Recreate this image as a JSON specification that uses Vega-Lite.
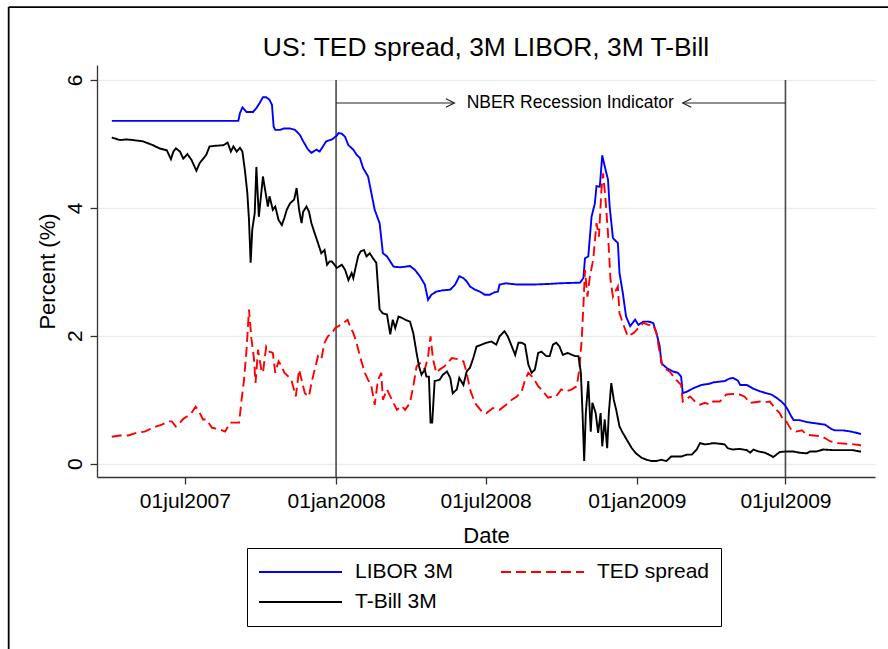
{
"$schema": "https://vega.github.io/schema/vega-lite/v6.json",
"width": 778,
"height": 412,
"autosize": {"type": "none"},
"padding": {"left": 97, "top": 65, "right": 13, "bottom": 172},
"background": "white",
"title": {"text": "US: TED spread, 3M LIBOR, 3M T-Bill", "fontSize": 26.4, "fontWeight": "normal", "color": "black", "anchor": "middle", "frame": "group", "baseline": "alphabetic", "offset": -76.5},
"config": {
  "font": "Liberation Sans",
  "view": {"stroke": null},
  "legend": {
    "orient": "none", "legendX": 150, "legendY": 483, "columns": 2, "direction": "horizontal",
    "strokeColor": "black", "strokeWidth": 1, "fillColor": "white", "padding": 11,
    "symbolType": "stroke", "symbolSize": 6889, "symbolStrokeWidth": 2, "clipHeight": 26,
    "labelFontSize": 21, "labelColor": "black", "labelOffset": 12, "columnPadding": 46, "rowPadding": 4, "labelLimit": 300
  }
},
"layer": [
  {
    "data": {"values": [{}]},
    "mark": {"type": "rule", "color": "black", "strokeWidth": 1.8},
    "encoding": {
      "x": {"datum": {"year": 2006, "month": 11, "date": 28, "hours": 12, "utc": true}, "type": "temporal"},
      "y": {"datum": 7.14, "type": "quantitative"},
      "y2": {"datum": -3.3}
    }
  },
  {
    "data": {"values": [{}]},
    "mark": {"type": "rule", "color": "black", "strokeWidth": 1.8},
    "encoding": {
      "x": {"datum": {"year": 2006, "month": 11, "date": 28, "hours": 12, "utc": true}, "type": "temporal"},
      "x2": {"datum": {"year": 2010, "month": 2, "date": 1, "utc": true}},
      "y": {"datum": 7.14, "type": "quantitative"}
    }
  },
  {
    "data": {"values": [{"when": "2008-01-01"}, {"when": "2009-07-01"}]},
    "mark": {"type": "rule", "color": "#4a4a4a", "strokeWidth": 1.6},
    "encoding": {
      "x": {"field": "when", "type": "temporal"},
      "y": {"datum": 6.0, "type": "quantitative"},
      "y2": {"datum": -0.21}
    }
  },
  {
    "data": {"values": [{"a": "2008-01-01", "b": "2008-05-24"}, {"a": "2009-02-26", "b": "2009-07-01"}]},
    "mark": {"type": "rule", "color": "#222222", "strokeWidth": 1.1},
    "encoding": {
      "x": {"field": "a", "type": "temporal"},
      "x2": {"field": "b"},
      "y": {"datum": 5.64, "type": "quantitative"}
    }
  },
  {
    "data": {"values": [{}]},
    "mark": {"type": "point", "shape": "M-1,-0.5L0,0L-1,0.5", "filled": false, "stroke": "#222222", "strokeWidth": 1.2, "size": 289, "opacity": 1},
    "encoding": {
      "x": {"datum": {"year": 2008, "month": 5, "date": 24, "utc": true}, "type": "temporal"},
      "y": {"datum": 5.64, "type": "quantitative"}
    }
  },
  {
    "data": {"values": [{}]},
    "mark": {"type": "point", "shape": "M1,-0.5L0,0L1,0.5", "filled": false, "stroke": "#222222", "strokeWidth": 1.2, "size": 289, "opacity": 1},
    "encoding": {
      "x": {"datum": {"year": 2009, "month": 2, "date": 26, "utc": true}, "type": "temporal"},
      "y": {"datum": 5.64, "type": "quantitative"}
    }
  },
  {
    "data": {"values": [{"label": "NBER Recession Indicator"}]},
    "mark": {"type": "text", "fontSize": 17.5, "align": "center", "baseline": "middle", "color": "black"},
    "encoding": {
      "x": {"datum": {"year": 2008, "month": 10, "date": 12, "utc": true}, "type": "temporal"},
      "y": {"datum": 5.64, "type": "quantitative"},
      "text": {"field": "label"}
    }
  },
  {
    "data": {"values": [
{"date":"2007-04-03","series":"LIBOR 3M","value":5.36},
{"date":"2007-05-15","series":"LIBOR 3M","value":5.36},
{"date":"2007-07-01","series":"LIBOR 3M","value":5.36},
{"date":"2007-08-15","series":"LIBOR 3M","value":5.36},
{"date":"2007-09-04","series":"LIBOR 3M","value":5.36},
{"date":"2007-09-06","series":"LIBOR 3M","value":5.48},
{"date":"2007-09-09","series":"LIBOR 3M","value":5.57},
{"date":"2007-09-14","series":"LIBOR 3M","value":5.50},
{"date":"2007-09-22","series":"LIBOR 3M","value":5.50},
{"date":"2007-09-26","series":"LIBOR 3M","value":5.56},
{"date":"2007-09-30","series":"LIBOR 3M","value":5.64},
{"date":"2007-10-04","series":"LIBOR 3M","value":5.73},
{"date":"2007-10-08","series":"LIBOR 3M","value":5.73},
{"date":"2007-10-12","series":"LIBOR 3M","value":5.69},
{"date":"2007-10-15","series":"LIBOR 3M","value":5.61},
{"date":"2007-10-17","series":"LIBOR 3M","value":5.27},
{"date":"2007-10-19","series":"LIBOR 3M","value":5.22},
{"date":"2007-10-25","series":"LIBOR 3M","value":5.22},
{"date":"2007-10-29","series":"LIBOR 3M","value":5.24},
{"date":"2007-11-06","series":"LIBOR 3M","value":5.24},
{"date":"2007-11-12","series":"LIBOR 3M","value":5.22},
{"date":"2007-11-18","series":"LIBOR 3M","value":5.14},
{"date":"2007-11-22","series":"LIBOR 3M","value":5.04},
{"date":"2007-11-28","series":"LIBOR 3M","value":4.91},
{"date":"2007-12-02","series":"LIBOR 3M","value":4.86},
{"date":"2007-12-08","series":"LIBOR 3M","value":4.91},
{"date":"2007-12-12","series":"LIBOR 3M","value":4.88},
{"date":"2007-12-16","series":"LIBOR 3M","value":4.96},
{"date":"2007-12-20","series":"LIBOR 3M","value":5.04},
{"date":"2007-12-27","series":"LIBOR 3M","value":5.07},
{"date":"2008-01-02","series":"LIBOR 3M","value":5.13},
{"date":"2008-01-04","series":"LIBOR 3M","value":5.17},
{"date":"2008-01-08","series":"LIBOR 3M","value":5.16},
{"date":"2008-01-12","series":"LIBOR 3M","value":5.11},
{"date":"2008-01-16","series":"LIBOR 3M","value":4.98},
{"date":"2008-01-22","series":"LIBOR 3M","value":4.91},
{"date":"2008-01-26","series":"LIBOR 3M","value":4.83},
{"date":"2008-01-30","series":"LIBOR 3M","value":4.78},
{"date":"2008-02-03","series":"LIBOR 3M","value":4.62},
{"date":"2008-02-09","series":"LIBOR 3M","value":4.49},
{"date":"2008-02-13","series":"LIBOR 3M","value":4.23},
{"date":"2008-02-17","series":"LIBOR 3M","value":3.97},
{"date":"2008-02-23","series":"LIBOR 3M","value":3.76},
{"date":"2008-02-27","series":"LIBOR 3M","value":3.29},
{"date":"2008-03-03","series":"LIBOR 3M","value":3.24},
{"date":"2008-03-07","series":"LIBOR 3M","value":3.16},
{"date":"2008-03-11","series":"LIBOR 3M","value":3.08},
{"date":"2008-03-19","series":"LIBOR 3M","value":3.07},
{"date":"2008-03-31","series":"LIBOR 3M","value":3.09},
{"date":"2008-04-06","series":"LIBOR 3M","value":3.03},
{"date":"2008-04-12","series":"LIBOR 3M","value":2.93},
{"date":"2008-04-18","series":"LIBOR 3M","value":2.80},
{"date":"2008-04-22","series":"LIBOR 3M","value":2.56},
{"date":"2008-04-26","series":"LIBOR 3M","value":2.64},
{"date":"2008-05-02","series":"LIBOR 3M","value":2.69},
{"date":"2008-05-10","series":"LIBOR 3M","value":2.71},
{"date":"2008-05-19","series":"LIBOR 3M","value":2.72},
{"date":"2008-05-25","series":"LIBOR 3M","value":2.80},
{"date":"2008-05-30","series":"LIBOR 3M","value":2.93},
{"date":"2008-06-04","series":"LIBOR 3M","value":2.90},
{"date":"2008-06-08","series":"LIBOR 3M","value":2.85},
{"date":"2008-06-12","series":"LIBOR 3M","value":2.77},
{"date":"2008-06-18","series":"LIBOR 3M","value":2.72},
{"date":"2008-06-24","series":"LIBOR 3M","value":2.69},
{"date":"2008-06-30","series":"LIBOR 3M","value":2.64},
{"date":"2008-07-06","series":"LIBOR 3M","value":2.64},
{"date":"2008-07-12","series":"LIBOR 3M","value":2.68},
{"date":"2008-07-16","series":"LIBOR 3M","value":2.69},
{"date":"2008-07-18","series":"LIBOR 3M","value":2.80},
{"date":"2008-07-26","series":"LIBOR 3M","value":2.82},
{"date":"2008-08-08","series":"LIBOR 3M","value":2.80},
{"date":"2008-08-28","series":"LIBOR 3M","value":2.80},
{"date":"2008-09-17","series":"LIBOR 3M","value":2.81},
{"date":"2008-09-29","series":"LIBOR 3M","value":2.82},
{"date":"2008-10-24","series":"LIBOR 3M","value":2.83},
{"date":"2008-10-28","series":"LIBOR 3M","value":2.90},
{"date":"2008-10-30","series":"LIBOR 3M","value":3.21},
{"date":"2008-11-03","series":"LIBOR 3M","value":3.24},
{"date":"2008-11-07","series":"LIBOR 3M","value":3.86},
{"date":"2008-11-11","series":"LIBOR 3M","value":4.07},
{"date":"2008-11-13","series":"LIBOR 3M","value":4.34},
{"date":"2008-11-17","series":"LIBOR 3M","value":4.33},
{"date":"2008-11-20","series":"LIBOR 3M","value":4.82},
{"date":"2008-11-23","series":"LIBOR 3M","value":4.65},
{"date":"2008-11-27","series":"LIBOR 3M","value":4.44},
{"date":"2008-11-29","series":"LIBOR 3M","value":4.02},
{"date":"2008-12-03","series":"LIBOR 3M","value":3.53},
{"date":"2008-12-05","series":"LIBOR 3M","value":3.50},
{"date":"2008-12-09","series":"LIBOR 3M","value":3.45},
{"date":"2008-12-11","series":"LIBOR 3M","value":2.98},
{"date":"2008-12-15","series":"LIBOR 3M","value":2.67},
{"date":"2008-12-19","series":"LIBOR 3M","value":2.30},
{"date":"2008-12-24","series":"LIBOR 3M","value":2.15},
{"date":"2008-12-30","series":"LIBOR 3M","value":2.25},
{"date":"2009-01-03","series":"LIBOR 3M","value":2.17},
{"date":"2009-01-09","series":"LIBOR 3M","value":2.22},
{"date":"2009-01-15","series":"LIBOR 3M","value":2.22},
{"date":"2009-01-21","series":"LIBOR 3M","value":2.20},
{"date":"2009-01-25","series":"LIBOR 3M","value":2.04},
{"date":"2009-01-29","series":"LIBOR 3M","value":1.83},
{"date":"2009-01-31","series":"LIBOR 3M","value":1.57},
{"date":"2009-02-06","series":"LIBOR 3M","value":1.50},
{"date":"2009-02-14","series":"LIBOR 3M","value":1.44},
{"date":"2009-02-20","series":"LIBOR 3M","value":1.42},
{"date":"2009-02-24","series":"LIBOR 3M","value":1.36},
{"date":"2009-02-26","series":"LIBOR 3M","value":1.10},
{"date":"2009-03-04","series":"LIBOR 3M","value":1.13},
{"date":"2009-03-11","series":"LIBOR 3M","value":1.18},
{"date":"2009-03-17","series":"LIBOR 3M","value":1.21},
{"date":"2009-03-21","series":"LIBOR 3M","value":1.23},
{"date":"2009-03-31","series":"LIBOR 3M","value":1.25},
{"date":"2009-04-04","series":"LIBOR 3M","value":1.27},
{"date":"2009-04-18","series":"LIBOR 3M","value":1.29},
{"date":"2009-04-24","series":"LIBOR 3M","value":1.33},
{"date":"2009-04-28","series":"LIBOR 3M","value":1.34},
{"date":"2009-05-04","series":"LIBOR 3M","value":1.30},
{"date":"2009-05-07","series":"LIBOR 3M","value":1.23},
{"date":"2009-05-15","series":"LIBOR 3M","value":1.23},
{"date":"2009-05-23","series":"LIBOR 3M","value":1.17},
{"date":"2009-05-31","series":"LIBOR 3M","value":1.13},
{"date":"2009-06-08","series":"LIBOR 3M","value":1.10},
{"date":"2009-06-14","series":"LIBOR 3M","value":1.08},
{"date":"2009-06-20","series":"LIBOR 3M","value":1.03},
{"date":"2009-06-26","series":"LIBOR 3M","value":0.97},
{"date":"2009-06-30","series":"LIBOR 3M","value":0.92},
{"date":"2009-07-04","series":"LIBOR 3M","value":0.84},
{"date":"2009-07-08","series":"LIBOR 3M","value":0.74},
{"date":"2009-07-11","series":"LIBOR 3M","value":0.68},
{"date":"2009-07-18","series":"LIBOR 3M","value":0.68},
{"date":"2009-07-27","series":"LIBOR 3M","value":0.65},
{"date":"2009-08-06","series":"LIBOR 3M","value":0.63},
{"date":"2009-08-18","series":"LIBOR 3M","value":0.61},
{"date":"2009-08-26","series":"LIBOR 3M","value":0.54},
{"date":"2009-08-30","series":"LIBOR 3M","value":0.52},
{"date":"2009-09-09","series":"LIBOR 3M","value":0.52},
{"date":"2009-09-19","series":"LIBOR 3M","value":0.50},
{"date":"2009-09-29","series":"LIBOR 3M","value":0.47},
{"date":"2009-10-01","series":"LIBOR 3M","value":0.46},
{"date":"2007-04-03","series":"TED spread","value":0.42},
{"date":"2007-04-13","series":"TED spread","value":0.44},
{"date":"2007-04-23","series":"TED spread","value":0.44},
{"date":"2007-05-03","series":"TED spread","value":0.48},
{"date":"2007-05-13","series":"TED spread","value":0.50},
{"date":"2007-05-23","series":"TED spread","value":0.56},
{"date":"2007-06-03","series":"TED spread","value":0.61},
{"date":"2007-06-11","series":"TED spread","value":0.66},
{"date":"2007-06-15","series":"TED spread","value":0.66},
{"date":"2007-06-20","series":"TED spread","value":0.58},
{"date":"2007-06-25","series":"TED spread","value":0.64},
{"date":"2007-06-29","series":"TED spread","value":0.70},
{"date":"2007-07-04","series":"TED spread","value":0.74},
{"date":"2007-07-09","series":"TED spread","value":0.79},
{"date":"2007-07-14","series":"TED spread","value":0.89},
{"date":"2007-07-18","series":"TED spread","value":0.82},
{"date":"2007-07-23","series":"TED spread","value":0.69},
{"date":"2007-07-27","series":"TED spread","value":0.69},
{"date":"2007-08-03","series":"TED spread","value":0.56},
{"date":"2007-08-11","series":"TED spread","value":0.54},
{"date":"2007-08-19","series":"TED spread","value":0.50},
{"date":"2007-08-25","series":"TED spread","value":0.64},
{"date":"2007-08-31","series":"TED spread","value":0.64},
{"date":"2007-09-05","series":"TED spread","value":0.64},
{"date":"2007-09-08","series":"TED spread","value":1.00},
{"date":"2007-09-11","series":"TED spread","value":1.31},
{"date":"2007-09-14","series":"TED spread","value":1.78},
{"date":"2007-09-17","series":"TED spread","value":2.41},
{"date":"2007-09-20","series":"TED spread","value":1.95},
{"date":"2007-09-23","series":"TED spread","value":1.65},
{"date":"2007-09-25","series":"TED spread","value":1.26},
{"date":"2007-09-28","series":"TED spread","value":1.78},
{"date":"2007-10-02","series":"TED spread","value":1.47},
{"date":"2007-10-04","series":"TED spread","value":1.42},
{"date":"2007-10-06","series":"TED spread","value":1.63},
{"date":"2007-10-08","series":"TED spread","value":1.83},
{"date":"2007-10-12","series":"TED spread","value":1.75},
{"date":"2007-10-16","series":"TED spread","value":1.73},
{"date":"2007-10-19","series":"TED spread","value":1.42},
{"date":"2007-10-23","series":"TED spread","value":1.60},
{"date":"2007-10-27","series":"TED spread","value":1.52},
{"date":"2007-10-30","series":"TED spread","value":1.42},
{"date":"2007-11-04","series":"TED spread","value":1.36},
{"date":"2007-11-08","series":"TED spread","value":1.29},
{"date":"2007-11-13","series":"TED spread","value":1.05},
{"date":"2007-11-17","series":"TED spread","value":1.47},
{"date":"2007-11-20","series":"TED spread","value":1.31},
{"date":"2007-11-24","series":"TED spread","value":1.10},
{"date":"2007-11-29","series":"TED spread","value":1.05},
{"date":"2007-12-02","series":"TED spread","value":1.26},
{"date":"2007-12-06","series":"TED spread","value":1.47},
{"date":"2007-12-10","series":"TED spread","value":1.68},
{"date":"2007-12-14","series":"TED spread","value":1.63},
{"date":"2007-12-18","series":"TED spread","value":1.89},
{"date":"2007-12-22","series":"TED spread","value":1.99},
{"date":"2007-12-27","series":"TED spread","value":2.04},
{"date":"2007-12-31","series":"TED spread","value":2.12},
{"date":"2008-01-04","series":"TED spread","value":2.15},
{"date":"2008-01-10","series":"TED spread","value":2.20},
{"date":"2008-01-15","series":"TED spread","value":2.25},
{"date":"2008-01-18","series":"TED spread","value":2.15},
{"date":"2008-01-22","series":"TED spread","value":2.04},
{"date":"2008-01-26","series":"TED spread","value":1.89},
{"date":"2008-01-30","series":"TED spread","value":1.68},
{"date":"2008-02-05","series":"TED spread","value":1.42},
{"date":"2008-02-09","series":"TED spread","value":1.31},
{"date":"2008-02-13","series":"TED spread","value":1.21},
{"date":"2008-02-17","series":"TED spread","value":0.92},
{"date":"2008-02-21","series":"TED spread","value":1.31},
{"date":"2008-02-25","series":"TED spread","value":1.42},
{"date":"2008-02-27","series":"TED spread","value":1.00},
{"date":"2008-03-03","series":"TED spread","value":1.16},
{"date":"2008-03-07","series":"TED spread","value":1.05},
{"date":"2008-03-11","series":"TED spread","value":0.95},
{"date":"2008-03-15","series":"TED spread","value":0.84},
{"date":"2008-03-21","series":"TED spread","value":0.90},
{"date":"2008-03-25","series":"TED spread","value":0.84},
{"date":"2008-03-31","series":"TED spread","value":0.95},
{"date":"2008-04-04","series":"TED spread","value":1.21},
{"date":"2008-04-08","series":"TED spread","value":1.52},
{"date":"2008-04-12","series":"TED spread","value":1.57},
{"date":"2008-04-18","series":"TED spread","value":1.47},
{"date":"2008-04-22","series":"TED spread","value":1.68},
{"date":"2008-04-25","series":"TED spread","value":1.99},
{"date":"2008-04-28","series":"TED spread","value":1.63},
{"date":"2008-05-02","series":"TED spread","value":1.42},
{"date":"2008-05-06","series":"TED spread","value":1.47},
{"date":"2008-05-12","series":"TED spread","value":1.52},
{"date":"2008-05-21","series":"TED spread","value":1.65},
{"date":"2008-05-29","series":"TED spread","value":1.63},
{"date":"2008-06-04","series":"TED spread","value":1.60},
{"date":"2008-06-08","series":"TED spread","value":1.42},
{"date":"2008-06-12","series":"TED spread","value":1.16},
{"date":"2008-06-18","series":"TED spread","value":0.95},
{"date":"2008-06-26","series":"TED spread","value":0.82},
{"date":"2008-07-02","series":"TED spread","value":0.79},
{"date":"2008-07-10","series":"TED spread","value":0.87},
{"date":"2008-07-18","series":"TED spread","value":0.84},
{"date":"2008-07-26","series":"TED spread","value":0.92},
{"date":"2008-08-02","series":"TED spread","value":1.00},
{"date":"2008-08-08","series":"TED spread","value":1.05},
{"date":"2008-08-14","series":"TED spread","value":1.13},
{"date":"2008-08-18","series":"TED spread","value":1.31},
{"date":"2008-08-22","series":"TED spread","value":1.42},
{"date":"2008-08-28","series":"TED spread","value":1.34},
{"date":"2008-09-03","series":"TED spread","value":1.21},
{"date":"2008-09-09","series":"TED spread","value":1.13},
{"date":"2008-09-15","series":"TED spread","value":1.03},
{"date":"2008-09-21","series":"TED spread","value":1.05},
{"date":"2008-09-25","series":"TED spread","value":1.05},
{"date":"2008-10-01","series":"TED spread","value":1.16},
{"date":"2008-10-07","series":"TED spread","value":1.13},
{"date":"2008-10-14","series":"TED spread","value":1.16},
{"date":"2008-10-20","series":"TED spread","value":1.21},
{"date":"2008-10-23","series":"TED spread","value":1.47},
{"date":"2008-10-26","series":"TED spread","value":1.94},
{"date":"2008-10-28","series":"TED spread","value":2.46},
{"date":"2008-10-30","series":"TED spread","value":3.03},
{"date":"2008-11-02","series":"TED spread","value":2.61},
{"date":"2008-11-05","series":"TED spread","value":2.93},
{"date":"2008-11-09","series":"TED spread","value":3.19},
{"date":"2008-11-13","series":"TED spread","value":3.76},
{"date":"2008-11-16","series":"TED spread","value":3.55},
{"date":"2008-11-19","series":"TED spread","value":4.28},
{"date":"2008-11-21","series":"TED spread","value":4.54},
{"date":"2008-11-24","series":"TED spread","value":4.13},
{"date":"2008-11-27","series":"TED spread","value":3.60},
{"date":"2008-11-30","series":"TED spread","value":2.88},
{"date":"2008-12-03","series":"TED spread","value":2.61},
{"date":"2008-12-05","series":"TED spread","value":2.67},
{"date":"2008-12-09","series":"TED spread","value":2.77},
{"date":"2008-12-11","series":"TED spread","value":2.35},
{"date":"2008-12-15","series":"TED spread","value":2.20},
{"date":"2008-12-21","series":"TED spread","value":1.99},
{"date":"2008-12-28","series":"TED spread","value":2.04},
{"date":"2009-01-03","series":"TED spread","value":2.12},
{"date":"2009-01-09","series":"TED spread","value":2.20},
{"date":"2009-01-15","series":"TED spread","value":2.17},
{"date":"2009-01-21","series":"TED spread","value":2.17},
{"date":"2009-01-25","series":"TED spread","value":2.04},
{"date":"2009-01-29","series":"TED spread","value":1.73},
{"date":"2009-02-02","series":"TED spread","value":1.50},
{"date":"2009-02-10","series":"TED spread","value":1.44},
{"date":"2009-02-18","series":"TED spread","value":1.31},
{"date":"2009-02-24","series":"TED spread","value":1.23},
{"date":"2009-02-26","series":"TED spread","value":0.97},
{"date":"2009-03-07","series":"TED spread","value":1.05},
{"date":"2009-03-13","series":"TED spread","value":0.97},
{"date":"2009-03-19","series":"TED spread","value":0.92},
{"date":"2009-03-25","series":"TED spread","value":0.95},
{"date":"2009-03-31","series":"TED spread","value":0.92},
{"date":"2009-04-04","series":"TED spread","value":0.97},
{"date":"2009-04-12","series":"TED spread","value":0.97},
{"date":"2009-04-20","series":"TED spread","value":1.08},
{"date":"2009-04-28","series":"TED spread","value":1.09},
{"date":"2009-05-06","series":"TED spread","value":1.08},
{"date":"2009-05-12","series":"TED spread","value":1.05},
{"date":"2009-05-19","series":"TED spread","value":0.95},
{"date":"2009-05-25","series":"TED spread","value":0.96},
{"date":"2009-05-31","series":"TED spread","value":0.97},
{"date":"2009-06-06","series":"TED spread","value":0.96},
{"date":"2009-06-12","series":"TED spread","value":0.97},
{"date":"2009-06-18","series":"TED spread","value":0.87},
{"date":"2009-06-24","series":"TED spread","value":0.79},
{"date":"2009-06-28","series":"TED spread","value":0.69},
{"date":"2009-07-02","series":"TED spread","value":0.66},
{"date":"2009-07-08","series":"TED spread","value":0.53},
{"date":"2009-07-14","series":"TED spread","value":0.50},
{"date":"2009-07-21","series":"TED spread","value":0.52},
{"date":"2009-07-27","series":"TED spread","value":0.45},
{"date":"2009-08-04","series":"TED spread","value":0.44},
{"date":"2009-08-12","series":"TED spread","value":0.43},
{"date":"2009-08-18","series":"TED spread","value":0.40},
{"date":"2009-08-24","series":"TED spread","value":0.35},
{"date":"2009-09-01","series":"TED spread","value":0.32},
{"date":"2009-09-13","series":"TED spread","value":0.31},
{"date":"2009-09-23","series":"TED spread","value":0.30},
{"date":"2009-09-29","series":"TED spread","value":0.29},
{"date":"2009-10-01","series":"TED spread","value":0.28},
{"date":"2007-04-03","series":"T-Bill 3M","value":5.10},
{"date":"2007-04-13","series":"T-Bill 3M","value":5.06},
{"date":"2007-04-21","series":"T-Bill 3M","value":5.07},
{"date":"2007-04-29","series":"T-Bill 3M","value":5.06},
{"date":"2007-05-05","series":"T-Bill 3M","value":5.05},
{"date":"2007-05-11","series":"T-Bill 3M","value":5.04},
{"date":"2007-05-17","series":"T-Bill 3M","value":5.01},
{"date":"2007-05-23","series":"T-Bill 3M","value":4.98},
{"date":"2007-05-31","series":"T-Bill 3M","value":4.93},
{"date":"2007-06-09","series":"T-Bill 3M","value":4.90},
{"date":"2007-06-14","series":"T-Bill 3M","value":4.76},
{"date":"2007-06-17","series":"T-Bill 3M","value":4.88},
{"date":"2007-06-20","series":"T-Bill 3M","value":4.93},
{"date":"2007-06-25","series":"T-Bill 3M","value":4.88},
{"date":"2007-06-29","series":"T-Bill 3M","value":4.77},
{"date":"2007-07-04","series":"T-Bill 3M","value":4.84},
{"date":"2007-07-09","series":"T-Bill 3M","value":4.75},
{"date":"2007-07-15","series":"T-Bill 3M","value":4.58},
{"date":"2007-07-19","series":"T-Bill 3M","value":4.70},
{"date":"2007-07-24","series":"T-Bill 3M","value":4.78},
{"date":"2007-07-27","series":"T-Bill 3M","value":4.83},
{"date":"2007-07-31","series":"T-Bill 3M","value":4.96},
{"date":"2007-08-07","series":"T-Bill 3M","value":4.97},
{"date":"2007-08-17","series":"T-Bill 3M","value":4.98},
{"date":"2007-08-22","series":"T-Bill 3M","value":5.02},
{"date":"2007-08-26","series":"T-Bill 3M","value":4.88},
{"date":"2007-08-29","series":"T-Bill 3M","value":4.96},
{"date":"2007-09-02","series":"T-Bill 3M","value":4.88},
{"date":"2007-09-06","series":"T-Bill 3M","value":4.94},
{"date":"2007-09-09","series":"T-Bill 3M","value":4.88},
{"date":"2007-09-12","series":"T-Bill 3M","value":4.59},
{"date":"2007-09-15","series":"T-Bill 3M","value":4.23},
{"date":"2007-09-17","series":"T-Bill 3M","value":3.81},
{"date":"2007-09-19","series":"T-Bill 3M","value":3.14},
{"date":"2007-09-21","series":"T-Bill 3M","value":3.66},
{"date":"2007-09-24","series":"T-Bill 3M","value":3.92},
{"date":"2007-09-26","series":"T-Bill 3M","value":4.64},
{"date":"2007-09-29","series":"T-Bill 3M","value":3.86},
{"date":"2007-10-04","series":"T-Bill 3M","value":4.49},
{"date":"2007-10-06","series":"T-Bill 3M","value":4.33},
{"date":"2007-10-10","series":"T-Bill 3M","value":4.02},
{"date":"2007-10-12","series":"T-Bill 3M","value":4.18},
{"date":"2007-10-16","series":"T-Bill 3M","value":3.97},
{"date":"2007-10-19","series":"T-Bill 3M","value":4.02},
{"date":"2007-10-23","series":"T-Bill 3M","value":3.81},
{"date":"2007-10-27","series":"T-Bill 3M","value":3.73},
{"date":"2007-10-30","series":"T-Bill 3M","value":3.84},
{"date":"2007-11-02","series":"T-Bill 3M","value":3.97},
{"date":"2007-11-06","series":"T-Bill 3M","value":4.07},
{"date":"2007-11-11","series":"T-Bill 3M","value":4.13},
{"date":"2007-11-14","series":"T-Bill 3M","value":4.31},
{"date":"2007-11-17","series":"T-Bill 3M","value":3.97},
{"date":"2007-11-20","series":"T-Bill 3M","value":3.76},
{"date":"2007-11-22","series":"T-Bill 3M","value":3.94},
{"date":"2007-11-26","series":"T-Bill 3M","value":4.02},
{"date":"2007-11-29","series":"T-Bill 3M","value":3.94},
{"date":"2007-12-02","series":"T-Bill 3M","value":3.76},
{"date":"2007-12-06","series":"T-Bill 3M","value":3.60},
{"date":"2007-12-10","series":"T-Bill 3M","value":3.45},
{"date":"2007-12-14","series":"T-Bill 3M","value":3.29},
{"date":"2007-12-18","series":"T-Bill 3M","value":3.34},
{"date":"2007-12-21","series":"T-Bill 3M","value":3.11},
{"date":"2007-12-24","series":"T-Bill 3M","value":3.16},
{"date":"2007-12-27","series":"T-Bill 3M","value":3.16},
{"date":"2008-01-02","series":"T-Bill 3M","value":3.06},
{"date":"2008-01-08","series":"T-Bill 3M","value":3.11},
{"date":"2008-01-12","series":"T-Bill 3M","value":3.03},
{"date":"2008-01-16","series":"T-Bill 3M","value":2.87},
{"date":"2008-01-20","series":"T-Bill 3M","value":2.98},
{"date":"2008-01-22","series":"T-Bill 3M","value":2.90},
{"date":"2008-01-25","series":"T-Bill 3M","value":3.08},
{"date":"2008-01-28","series":"T-Bill 3M","value":3.25},
{"date":"2008-01-31","series":"T-Bill 3M","value":3.32},
{"date":"2008-02-04","series":"T-Bill 3M","value":3.34},
{"date":"2008-02-07","series":"T-Bill 3M","value":3.24},
{"date":"2008-02-11","series":"T-Bill 3M","value":3.29},
{"date":"2008-02-15","series":"T-Bill 3M","value":3.21},
{"date":"2008-02-19","series":"T-Bill 3M","value":3.14},
{"date":"2008-02-21","series":"T-Bill 3M","value":2.77},
{"date":"2008-02-23","series":"T-Bill 3M","value":2.41},
{"date":"2008-02-27","series":"T-Bill 3M","value":2.35},
{"date":"2008-03-03","series":"T-Bill 3M","value":2.33},
{"date":"2008-03-07","series":"T-Bill 3M","value":2.02},
{"date":"2008-03-10","series":"T-Bill 3M","value":2.25},
{"date":"2008-03-13","series":"T-Bill 3M","value":2.12},
{"date":"2008-03-17","series":"T-Bill 3M","value":2.30},
{"date":"2008-03-21","series":"T-Bill 3M","value":2.28},
{"date":"2008-03-25","series":"T-Bill 3M","value":2.25},
{"date":"2008-03-31","series":"T-Bill 3M","value":2.22},
{"date":"2008-04-04","series":"T-Bill 3M","value":2.04},
{"date":"2008-04-08","series":"T-Bill 3M","value":1.73},
{"date":"2008-04-11","series":"T-Bill 3M","value":1.52},
{"date":"2008-04-14","series":"T-Bill 3M","value":1.39},
{"date":"2008-04-18","series":"T-Bill 3M","value":1.47},
{"date":"2008-04-20","series":"T-Bill 3M","value":1.36},
{"date":"2008-04-23","series":"T-Bill 3M","value":1.36},
{"date":"2008-04-25","series":"T-Bill 3M","value":0.64},
{"date":"2008-04-27","series":"T-Bill 3M","value":0.64},
{"date":"2008-04-30","series":"T-Bill 3M","value":1.29},
{"date":"2008-05-06","series":"T-Bill 3M","value":1.31},
{"date":"2008-05-10","series":"T-Bill 3M","value":1.39},
{"date":"2008-05-15","series":"T-Bill 3M","value":1.44},
{"date":"2008-05-19","series":"T-Bill 3M","value":1.34},
{"date":"2008-05-22","series":"T-Bill 3M","value":1.10},
{"date":"2008-05-27","series":"T-Bill 3M","value":1.16},
{"date":"2008-05-30","series":"T-Bill 3M","value":1.34},
{"date":"2008-06-04","series":"T-Bill 3M","value":1.23},
{"date":"2008-06-08","series":"T-Bill 3M","value":1.44},
{"date":"2008-06-12","series":"T-Bill 3M","value":1.50},
{"date":"2008-06-16","series":"T-Bill 3M","value":1.65},
{"date":"2008-06-20","series":"T-Bill 3M","value":1.83},
{"date":"2008-06-26","series":"T-Bill 3M","value":1.86},
{"date":"2008-07-02","series":"T-Bill 3M","value":1.89},
{"date":"2008-07-08","series":"T-Bill 3M","value":1.91},
{"date":"2008-07-14","series":"T-Bill 3M","value":1.86},
{"date":"2008-07-18","series":"T-Bill 3M","value":1.99},
{"date":"2008-07-24","series":"T-Bill 3M","value":2.07},
{"date":"2008-07-28","series":"T-Bill 3M","value":1.99},
{"date":"2008-08-02","series":"T-Bill 3M","value":1.83},
{"date":"2008-08-06","series":"T-Bill 3M","value":1.70},
{"date":"2008-08-10","series":"T-Bill 3M","value":1.89},
{"date":"2008-08-14","series":"T-Bill 3M","value":1.89},
{"date":"2008-08-18","series":"T-Bill 3M","value":1.86},
{"date":"2008-08-22","series":"T-Bill 3M","value":1.55},
{"date":"2008-08-26","series":"T-Bill 3M","value":1.42},
{"date":"2008-08-30","series":"T-Bill 3M","value":1.47},
{"date":"2008-09-03","series":"T-Bill 3M","value":1.73},
{"date":"2008-09-07","series":"T-Bill 3M","value":1.75},
{"date":"2008-09-13","series":"T-Bill 3M","value":1.68},
{"date":"2008-09-17","series":"T-Bill 3M","value":1.68},
{"date":"2008-09-21","series":"T-Bill 3M","value":1.86},
{"date":"2008-09-25","series":"T-Bill 3M","value":1.89},
{"date":"2008-09-29","series":"T-Bill 3M","value":1.83},
{"date":"2008-10-03","series":"T-Bill 3M","value":1.70},
{"date":"2008-10-09","series":"T-Bill 3M","value":1.73},
{"date":"2008-10-18","series":"T-Bill 3M","value":1.68},
{"date":"2008-10-22","series":"T-Bill 3M","value":1.68},
{"date":"2008-10-25","series":"T-Bill 3M","value":1.42},
{"date":"2008-10-27","series":"T-Bill 3M","value":0.79},
{"date":"2008-10-29","series":"T-Bill 3M","value":0.04},
{"date":"2008-10-31","series":"T-Bill 3M","value":0.79},
{"date":"2008-11-03","series":"T-Bill 3M","value":1.29},
{"date":"2008-11-06","series":"T-Bill 3M","value":0.50},
{"date":"2008-11-08","series":"T-Bill 3M","value":0.95},
{"date":"2008-11-12","series":"T-Bill 3M","value":0.79},
{"date":"2008-11-15","series":"T-Bill 3M","value":0.48},
{"date":"2008-11-18","series":"T-Bill 3M","value":0.79},
{"date":"2008-11-20","series":"T-Bill 3M","value":0.27},
{"date":"2008-11-23","series":"T-Bill 3M","value":0.69},
{"date":"2008-11-26","series":"T-Bill 3M","value":0.24},
{"date":"2008-11-28","series":"T-Bill 3M","value":0.79},
{"date":"2008-12-01","series":"T-Bill 3M","value":1.26},
{"date":"2008-12-04","series":"T-Bill 3M","value":1.00},
{"date":"2008-12-07","series":"T-Bill 3M","value":0.84},
{"date":"2008-12-11","series":"T-Bill 3M","value":0.58},
{"date":"2008-12-15","series":"T-Bill 3M","value":0.48},
{"date":"2008-12-20","series":"T-Bill 3M","value":0.37},
{"date":"2008-12-26","series":"T-Bill 3M","value":0.24},
{"date":"2008-12-31","series":"T-Bill 3M","value":0.16},
{"date":"2009-01-07","series":"T-Bill 3M","value":0.09},
{"date":"2009-01-13","series":"T-Bill 3M","value":0.06},
{"date":"2009-01-19","series":"T-Bill 3M","value":0.04},
{"date":"2009-01-25","series":"T-Bill 3M","value":0.04},
{"date":"2009-01-31","series":"T-Bill 3M","value":0.06},
{"date":"2009-02-06","series":"T-Bill 3M","value":0.04},
{"date":"2009-02-12","series":"T-Bill 3M","value":0.11},
{"date":"2009-02-18","series":"T-Bill 3M","value":0.11},
{"date":"2009-02-24","series":"T-Bill 3M","value":0.11},
{"date":"2009-03-03","series":"T-Bill 3M","value":0.14},
{"date":"2009-03-09","series":"T-Bill 3M","value":0.14},
{"date":"2009-03-15","series":"T-Bill 3M","value":0.22},
{"date":"2009-03-19","series":"T-Bill 3M","value":0.32},
{"date":"2009-03-25","series":"T-Bill 3M","value":0.30},
{"date":"2009-03-31","series":"T-Bill 3M","value":0.31},
{"date":"2009-04-04","series":"T-Bill 3M","value":0.32},
{"date":"2009-04-12","series":"T-Bill 3M","value":0.31},
{"date":"2009-04-18","series":"T-Bill 3M","value":0.30},
{"date":"2009-04-22","series":"T-Bill 3M","value":0.24},
{"date":"2009-04-28","series":"T-Bill 3M","value":0.22},
{"date":"2009-05-06","series":"T-Bill 3M","value":0.23},
{"date":"2009-05-15","series":"T-Bill 3M","value":0.21},
{"date":"2009-05-19","series":"T-Bill 3M","value":0.17},
{"date":"2009-05-23","series":"T-Bill 3M","value":0.22},
{"date":"2009-05-29","series":"T-Bill 3M","value":0.19},
{"date":"2009-06-06","series":"T-Bill 3M","value":0.17},
{"date":"2009-06-14","series":"T-Bill 3M","value":0.12},
{"date":"2009-06-16","series":"T-Bill 3M","value":0.10},
{"date":"2009-06-20","series":"T-Bill 3M","value":0.14},
{"date":"2009-06-24","series":"T-Bill 3M","value":0.18},
{"date":"2009-07-02","series":"T-Bill 3M","value":0.19},
{"date":"2009-07-10","series":"T-Bill 3M","value":0.19},
{"date":"2009-07-18","series":"T-Bill 3M","value":0.17},
{"date":"2009-07-27","series":"T-Bill 3M","value":0.16},
{"date":"2009-07-31","series":"T-Bill 3M","value":0.19},
{"date":"2009-08-08","series":"T-Bill 3M","value":0.19},
{"date":"2009-08-16","series":"T-Bill 3M","value":0.22},
{"date":"2009-08-28","series":"T-Bill 3M","value":0.21},
{"date":"2009-09-09","series":"T-Bill 3M","value":0.21},
{"date":"2009-09-21","series":"T-Bill 3M","value":0.21},
{"date":"2009-09-29","series":"T-Bill 3M","value":0.19},
{"date":"2009-10-01","series":"T-Bill 3M","value":0.19}
    ]},
    "mark": {"type": "line", "strokeWidth": 1.9},
    "encoding": {
      "x": {
        "field": "date", "type": "temporal",
        "scale": {"type": "utc", "domain": [{"year": 2007, "month": 3, "date": 16, "utc": true}, {"year": 2009, "month": 10, "date": 18, "utc": true}]},
        "axis": {
          "title": "Date",
          "values": [{"year": 2007, "month": 7, "date": 1, "utc": true}, {"year": 2008, "month": 1, "date": 1, "utc": true}, {"year": 2008, "month": 7, "date": 1, "utc": true}, {"year": 2009, "month": 1, "date": 1, "utc": true}, {"year": 2009, "month": 7, "date": 1, "utc": true}],
          "labelExpr": "lower(utcFormat(datum.value, '%d%b%Y'))",
          "grid": false, "tickSize": 7, "tickWidth": 1.3, "tickColor": "#333333",
          "domainColor": "#333333", "domainWidth": 1.3,
          "labelFontSize": 21, "labelColor": "black", "labelPadding": 6, "labelFlush": false, "labelOverlap": false,
          "titleFontSize": 22, "titleFontWeight": "normal", "titleColor": "black", "titlePadding": 14
        }
      },
      "y": {
        "field": "value", "type": "quantitative",
        "scale": {"domain": [-0.21, 6.234], "nice": false, "zero": false},
        "axis": {
          "title": "Percent (%)", "values": [0, 2, 4, 6], "format": "d",
          "grid": true, "gridColor": "#e6eef1", "gridWidth": 1.5,
          "tickSize": 7, "tickWidth": 1.3, "tickColor": "#333333",
          "domainColor": "#333333", "domainWidth": 1.3,
          "labelAngle": 270, "labelAlign": "center", "labelBaseline": "alphabetic",
          "labelFontSize": 21, "labelColor": "black", "labelPadding": 9,
          "titleFontSize": 22, "titleFontWeight": "normal", "titleColor": "black", "titlePadding": 5
        }
      },
      "color": {
        "field": "series", "type": "nominal",
        "scale": {"domain": ["LIBOR 3M", "TED spread", "T-Bill 3M"], "range": ["#0000ff", "#ff0000", "#000000"]},
        "legend": {"title": null, "values": ["LIBOR 3M", "TED spread", "T-Bill 3M"]}
      },
      "strokeDash": {
        "field": "series", "type": "nominal",
        "scale": {"domain": ["LIBOR 3M", "TED spread", "T-Bill 3M"], "range": [[1, 0], [10, 5], [1, 0]]},
        "legend": {"title": null, "values": ["LIBOR 3M", "TED spread", "T-Bill 3M"]}
      }
    }
  }
]
}
